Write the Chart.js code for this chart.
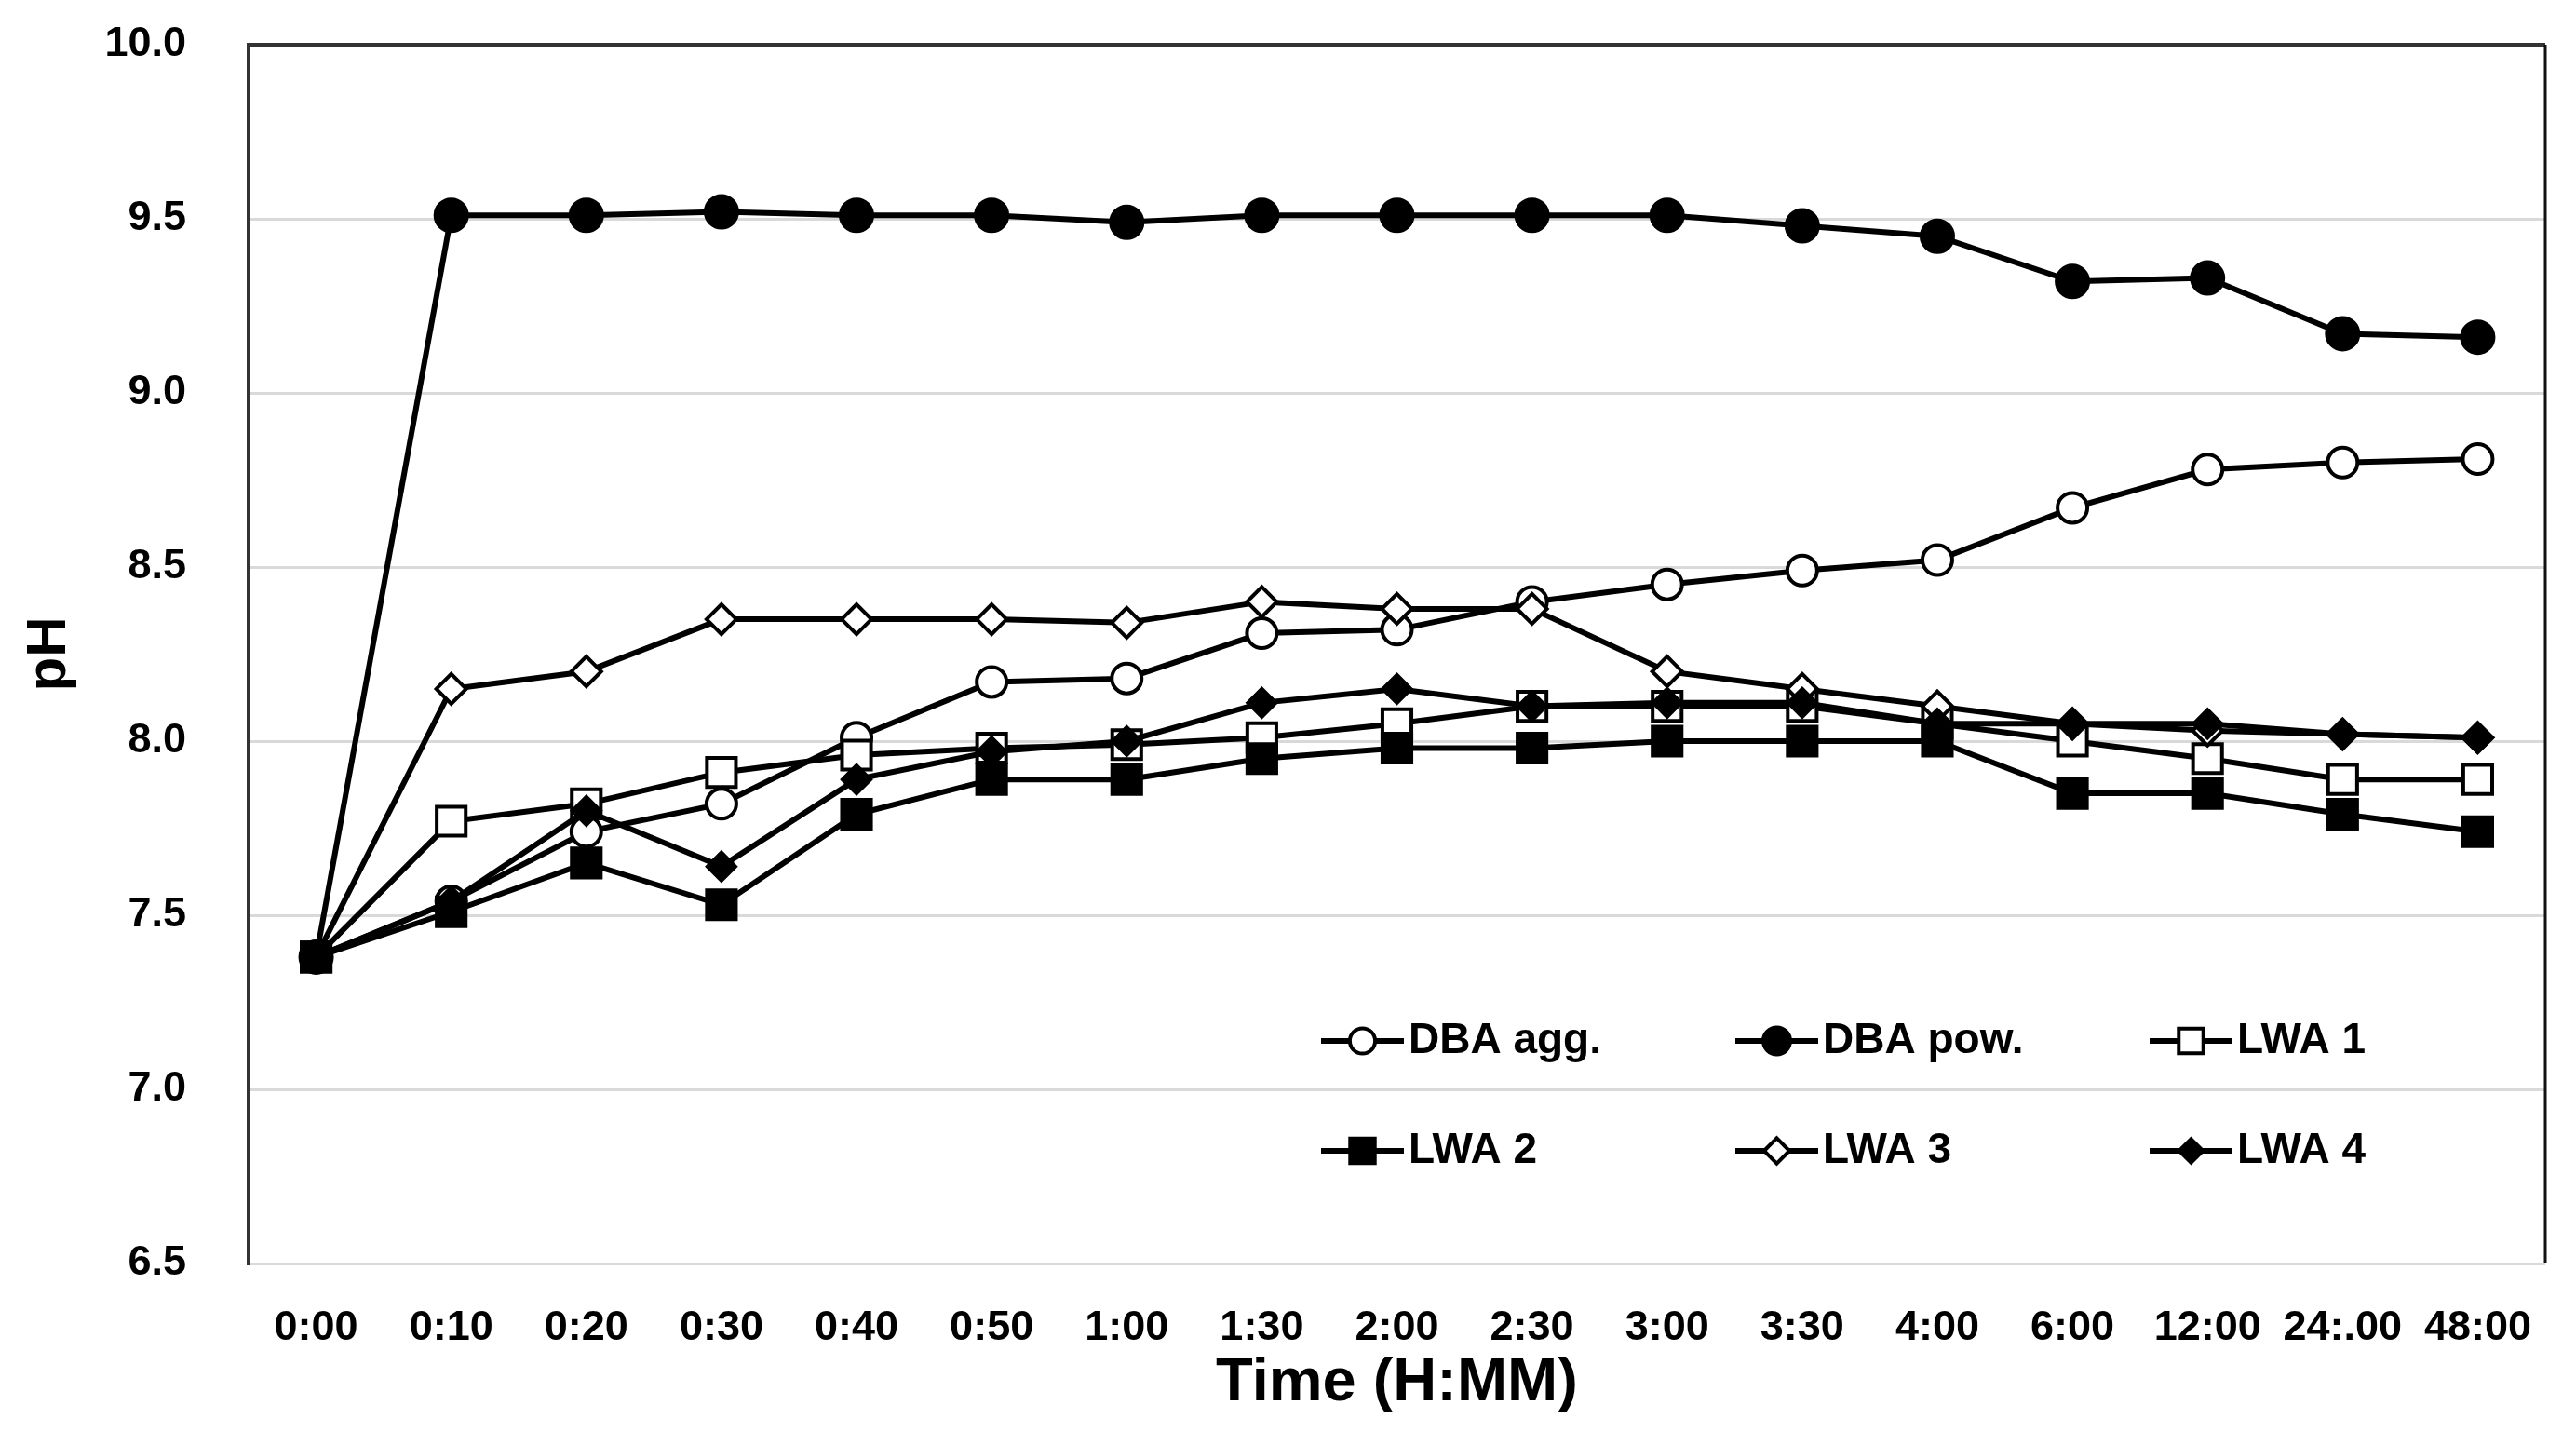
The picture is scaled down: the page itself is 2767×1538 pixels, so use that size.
<!DOCTYPE html>
<html lang="en">
<head>
    <meta charset="UTF-8">
    <title>pH over time</title>
    <script src="https://cdn.jsdelivr.net/npm/chart.js"></script>
    <style>
        html, body { margin: 0; padding: 0; background: #fff; }
        #wrap { width: 2767px; height: 1538px; }
    </style>
</head>
<body>
    <div id="wrap"><canvas id="phChart"></canvas></div>

    <script>
        // time points (the "24:.00" label is as printed in the original figure)
        const times = ['0:00', '0:10', '0:20', '0:30', '0:40', '0:50', '1:00', '1:30', '2:00',
                       '2:30', '3:00', '3:30', '4:00', '6:00', '12:00', '24:.00', '48:00'];

        // pH readings per sample
        const dbaAgg = [7.38, 7.54, 7.74, 7.82, 8.01, 8.17, 8.18, 8.31, 8.32, 8.40, 8.45, 8.49, 8.52, 8.67, 8.78, 8.80, 8.81];
        const dbaPow = [7.38, 9.51, 9.51, 9.52, 9.51, 9.51, 9.49, 9.51, 9.51, 9.51, 9.51, 9.48, 9.45, 9.32, 9.33, 9.17, 9.16];
        const lwa1   = [7.38, 7.77, 7.82, 7.91, 7.96, 7.98, 7.99, 8.01, 8.05, 8.10, 8.10, 8.10, 8.05, 8.00, 7.95, 7.89, 7.89];
        const lwa2   = [7.38, 7.51, 7.65, 7.53, 7.79, 7.89, 7.89, 7.95, 7.98, 7.98, 8.00, 8.00, 8.00, 7.85, 7.85, 7.79, 7.74];
        const lwa3   = [7.38, 8.15, 8.20, 8.35, 8.35, 8.35, 8.34, 8.40, 8.38, 8.38, 8.20, 8.15, 8.10, 8.05, 8.03, 8.02, 8.01];
        const lwa4   = [7.38, 7.54, 7.80, 7.64, 7.89, 7.97, 8.00, 8.11, 8.15, 8.10, 8.11, 8.11, 8.05, 8.05, 8.05, 8.02, 8.01];

        const yMin = 6.5, yMax = 10.0, yStep = 0.5;

        const FONT = '"Liberation Sans", Arial, sans-serif';
        Chart.defaults.font.family = FONT;
        Chart.defaults.color = '#000';

        // helper for one black series
        function series(label, data, style, radius, filled, order) {
            return {
                label: label,
                data: data,
                borderColor: '#000',
                borderWidth: 6,
                pointStyle: style,
                pointRadius: radius,
                pointHoverRadius: radius,
                pointBackgroundColor: filled ? '#000' : '#fff',
                pointBorderColor: '#000',
                pointBorderWidth: 4,
                tension: 0,
                fill: false,
                order: order
            };
        }

        const datasets = [
            series('DBA agg.', dbaAgg, 'circle', 16, false, 6),
            series('DBA pow.', dbaPow, 'circle', 17, true, 5),
            series('LWA 1', lwa1, 'rect', 22, false, 4),
            series('LWA 2', lwa2, 'rect', 22, true, 3),
            series('LWA 3', lwa3, 'rectRot', 16, false, 2),
            series('LWA 4', lwa4, 'rectRot', 15, true, 1)
        ];

        // legend drawn inside the plot, 3 columns x 2 rows
        const insideLegend = {
            id: 'insideLegend',
            afterDraw(chart) {
                const ctx = chart.ctx;
                const area = chart.chartArea;
                const x0 = area.left + 1152, colGap = 445;
                const rows = [area.top + 1070, area.top + 1188];
                const lineLen = 89;
                ctx.save();
                chart.data.datasets.forEach((ds, i) => {
                    const x = x0 + (i % 3) * colGap;
                    const y = rows[Math.floor(i / 3)];
                    ctx.strokeStyle = '#000';
                    ctx.lineWidth = 6;
                    ctx.beginPath();
                    ctx.moveTo(x, y);
                    ctx.lineTo(x + lineLen, y);
                    ctx.stroke();
                    ctx.fillStyle = ds.pointBackgroundColor;
                    ctx.lineWidth = 4;
                    const opts = { pointStyle: ds.pointStyle, rotation: 0, radius: ds.pointRadius * 0.85, borderWidth: 4 };
                    if (Chart.helpers && Chart.helpers.drawPoint) {
                        Chart.helpers.drawPoint(ctx, opts, x + lineLen / 2, y);
                    }
                    ctx.fillStyle = '#000';
                    ctx.font = 'bold 46px ' + FONT;
                    ctx.textAlign = 'left';
                    ctx.textBaseline = 'middle';
                    ctx.fillText(ds.label, x + lineLen + 5, y);
                });
                ctx.restore();
            }
        };

        // right-hand frame line
        const frame = {
            id: 'frame',
            afterDatasetsDraw(chart) {
                const ctx = chart.ctx;
                const a = chart.chartArea;
                ctx.save();
                ctx.strokeStyle = '#111';
                ctx.lineWidth = 3;
                ctx.beginPath();
                ctx.moveTo(a.right, a.top);
                ctx.lineTo(a.right, a.bottom);
                ctx.stroke();
                ctx.restore();
            }
        };

        new Chart(document.getElementById('phChart'), {
            type: 'line',
            data: { labels: times, datasets: datasets },
            options: {
                responsive: true,
                maintainAspectRatio: false,
                devicePixelRatio: 1,
                animation: false,
                layout: { padding: { left: 0, right: 33, top: 48, bottom: 0 } },
                plugins: {
                    legend: { display: false },
                    tooltip: { enabled: false }
                },
                scales: {
                    x: {
                        offset: true,
                        grid: { display: false, drawTicks: false },
                        border: { display: false },
                        ticks: { font: { size: 45, weight: 'bold' }, padding: 43, maxRotation: 0, autoSkip: false },
                        title: {
                            display: true,
                            text: 'Time (H:MM)',
                            font: { size: 65, weight: 'bold' },
                            padding: { top: 0, bottom: 13 }
                        },
                        afterFit(scale) { scale.height = 181; }
                    },
                    y: {
                        min: yMin,
                        max: yMax,
                        ticks: {
                            stepSize: yStep,
                            font: { size: 45, weight: 'bold' },
                            padding: 67,
                            callback: v => Number(v).toFixed(1)
                        },
                        grid: {
                            drawTicks: false,
                            color: c => (c.tick && c.tick.value === yMax) ? '#333' : '#d9d9d9',
                            lineWidth: c => (c.tick && c.tick.value === yMax) ? 4 : 3
                        },
                        border: { display: true, color: '#333', width: 4 },
                        title: {
                            display: true,
                            text: 'pH',
                            font: { size: 60, weight: 'bold' },
                            padding: { top: 17, bottom: 0 }
                        },
                        afterFit(scale) {
                            scale.width = 267;
                            scale.paddingTop = 0;
                            scale.paddingBottom = 0;
                        }
                    }
                }
            },
            plugins: [frame, insideLegend]
        });
    </script>
</body>
</html>
